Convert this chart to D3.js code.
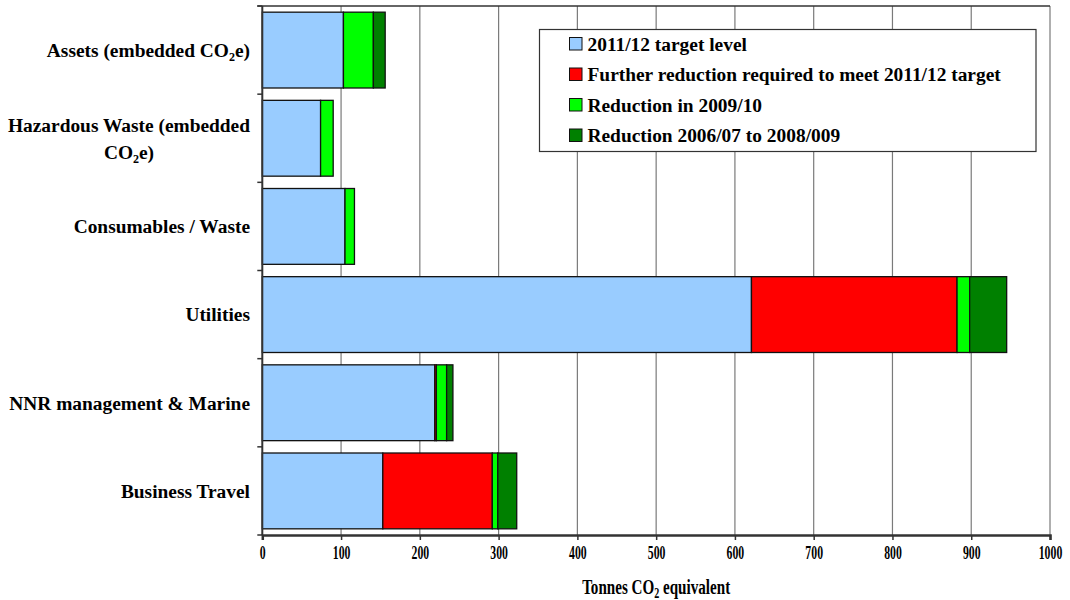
<!DOCTYPE html>
<html><head><meta charset="utf-8">
<script src="https://cdn.jsdelivr.net/npm/d3@7/dist/d3.min.js"></script>
<style>
body{margin:0;background:#fff;}
svg text{font-family:"Liberation Serif","Times New Roman",serif;font-weight:bold;fill:#000;}
</style></head>
<body><svg id="c" width="1070" height="600"></svg>
<script>
const categories = ["Assets (embedded CO2e)","Hazardous Waste (embedded CO2e)","Consumables / Waste","Utilities","NNR management & Marine","Business Travel"];
const target2011 = [103, 74, 105, 621, 219, 153];
const furtherReduction = [0, 0, 0, 261, 2, 139];
const reduction0910 = [38, 16, 12, 16, 13, 7];
const reduction0609 = [15, 0, 0, 47, 8, 24];
const seriesNames = ["2011/12 target level","Further reduction required to meet 2011/12 target","Reduction in 2009/10","Reduction 2006/07 to 2008/009"];
const seriesColors = ["#99CCFF","#FF0000","#00FF00","#008000"];
const xTicks = [0,100,200,300,400,500,600,700,800,900,1000];

const svg = d3.select("#c");
const L = 262.3, R = 1050, T = 6, B = 535;
const x = d3.scaleLinear().domain([0,1000]).range([L,R]);
const y = d3.scaleBand().domain(categories).range([T,B]).paddingInner(0.14).paddingOuter(0.07);

// gridlines
svg.append("g").selectAll("line").data(xTicks.slice(1)).join("line")
  .attr("x1",d=>x(d)).attr("x2",d=>x(d)).attr("y1",T).attr("y2",B)
  .attr("stroke","#7a7a7a").attr("stroke-width",1.2);
// top border
svg.append("line").attr("x1",L-5).attr("x2",R).attr("y1",T).attr("y2",T).attr("stroke","#333").attr("stroke-width",1.5);

// stacked bars
const rows = categories.map((c,i)=>({cat:c, vals:[target2011[i],furtherReduction[i],reduction0910[i],reduction0609[i]]}));
const keys = [0,1,2,3];
const stack = d3.stack().keys(keys).value((d,k)=>d.vals[k]);
const stacked = stack(rows);
svg.append("g").selectAll("g").data(stacked).join("g")
  .attr("fill",(d,i)=>seriesColors[i])
  .selectAll("rect").data(d=>d.filter(s=>s[1]-s[0]>0)).join("rect")
  .attr("x",d=>x(d[0])).attr("width",d=>x(d[1])-x(d[0]))
  .attr("y",d=>y(d.data.cat)).attr("height",y.bandwidth())
  .attr("stroke","#111").attr("stroke-width",1.3);

// y axis line + ticks
svg.append("line").attr("x1",L).attr("x2",L).attr("y1",T).attr("y2",B).attr("stroke","#333").attr("stroke-width",2);
const step = y.step();
svg.append("g").selectAll("line").data(d3.range(categories.length+1)).join("line")
  .attr("x1",L-5).attr("x2",L).attr("y1",i=>T+i*step).attr("y2",i=>T+i*step)
  .attr("stroke","#333").attr("stroke-width",1.5);

// x axis
const xAxis = svg.append("g").attr("transform",`translate(0,${B})`)
  .call(d3.axisBottom(x).tickValues(xTicks).tickSize(5).tickPadding(8).tickFormat(d3.format("d")));
xAxis.select(".domain").attr("stroke","#333").attr("stroke-width",2.5);
xAxis.selectAll(".tick line").attr("stroke","#333").attr("stroke-width",1.5);
xAxis.selectAll(".tick text").attr("font-size",19).attr("font-family",null)
  .attr("transform","scale(0.62,1)").attr("x",0).attr("y",9).attr("dy","0.78em");

// x axis title
const xt = svg.append("text").attr("text-anchor","middle").attr("font-size",21)
  .attr("transform",`translate(${(L+R)/2},594) scale(0.72,1)`);
xt.append("tspan").text("Tonnes CO");
xt.append("tspan").attr("font-size",14).attr("dy",4).text("2");
xt.append("tspan").attr("dy",-4).text(" equivalent");

// category labels
const LFS = 19.4;
function labelParts(sel, s){
  const parts = s.split("CO2");
  sel.append("tspan").text(parts[0] + (parts.length>1?"CO":""));
  if(parts.length>1){
    sel.append("tspan").attr("font-size",12).attr("dy",4).text("2");
    sel.append("tspan").attr("dy",-4).text(parts[1]);
  }
}
const catLines = {"Hazardous Waste (embedded CO2e)":["Hazardous Waste (embedded","CO2e)"]};
categories.forEach(c=>{
  const cy = y(c)+y.bandwidth()/2;
  const lines = catLines[c] || [c];
  if(lines.length===1){
    const t = svg.append("text").attr("x",250).attr("y",cy).attr("dy","0.35em").attr("text-anchor","end").attr("font-size",LFS);
    labelParts(t, lines[0]);
  } else {
    const t1 = svg.append("text").attr("y",cy-13).attr("dy","0.35em").attr("text-anchor","end").attr("x",250).attr("font-size",LFS);
    labelParts(t1, lines[0]);
    const w = t1.node().getComputedTextLength();
    const t2 = svg.append("text").attr("y",cy+14).attr("dy","0.35em").attr("text-anchor","middle").attr("x",250-w/2).attr("font-size",LFS);
    labelParts(t2, lines[1]);
  }
});

// legend
const lg = svg.append("g");
lg.append("rect").attr("x",539.5).attr("y",29.5).attr("width",496.5).attr("height",122)
  .attr("fill","#fff").attr("stroke","#333").attr("stroke-width",1.2);
const li = lg.selectAll("g.li").data(seriesNames).join("g").attr("class","li")
  .attr("transform",(d,i)=>`translate(569.5,${44+i*30.5})`);
li.append("rect").attr("x",0).attr("y",-6.5).attr("width",12.5).attr("height",12.5)
  .attr("fill",(d,i)=>seriesColors[i]).attr("stroke","#111").attr("stroke-width",1);
li.append("text").attr("x",18).attr("dy","0.35em").attr("font-size",19.4).text(d=>d);
</script></body></html>
